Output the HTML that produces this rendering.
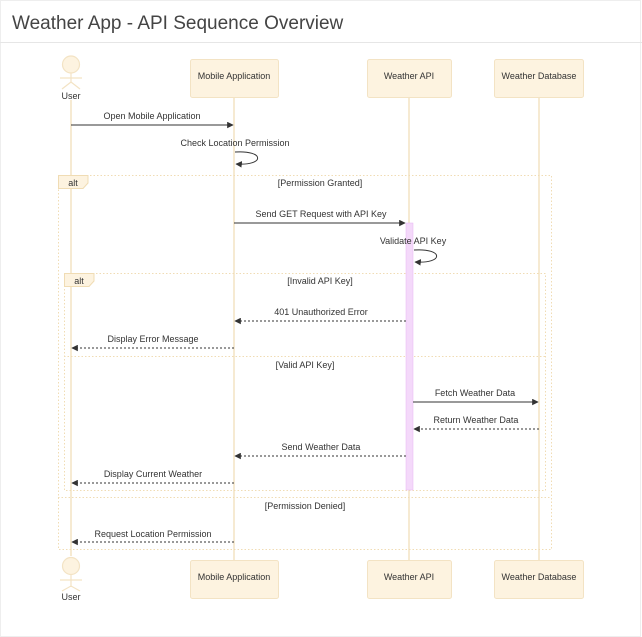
<!DOCTYPE html>
<html><head><meta charset="utf-8"><style>
html,body{margin:0;padding:0;background:#fff;}
svg{display:block;font-family:"Liberation Sans",Arial,sans-serif;}
</style></head><body>
<svg width="642" height="637" viewBox="0 0 642 637" xmlns="http://www.w3.org/2000/svg">
<defs>
<marker id="a" viewBox="0 0 10 10" refX="9" refY="5" markerWidth="6.5" markerHeight="6.5" orient="auto"><path d="M0,0 L10,5 L0,10 z" fill="#333"/></marker>
</defs>
<rect x="0.5" y="0.5" width="640" height="636" fill="#fff" stroke="#eee"/>
<line x1="0" y1="42.5" x2="642" y2="42.5" stroke="#e6e6e6"/>
<text x="12" y="29" font-size="19" fill="#444">Weather App - API Sequence Overview</text>

<g stroke="#f3e3c4" stroke-width="1.5">
<line x1="71" y1="100" x2="71" y2="556"/>
<line x1="234" y1="97" x2="234" y2="560"/>
<line x1="409" y1="97" x2="409" y2="560"/>
<line x1="539" y1="97" x2="539" y2="560"/>
</g>

<g fill="none" stroke="#f0dcb4" stroke-dasharray="1.5,2">
<rect x="58.5" y="175.5" width="493" height="374"/>
<line x1="58" y1="497.5" x2="551" y2="497.5"/>
<rect x="64.5" y="273.5" width="481" height="217"/>
<line x1="64" y1="356.5" x2="545" y2="356.5"/>
</g>
<path d="M58.5,175.5 H88 V183 L83,188.5 H58.5 Z" fill="#fdf3e0" stroke="#f0dcb4"/>
<text x="73" y="186" font-size="9" fill="#333" text-anchor="middle">alt</text>
<path d="M64.5,273.5 H94 V281 L89,286.5 H64.5 Z" fill="#fdf3e0" stroke="#f0dcb4"/>
<text x="79" y="284" font-size="9" fill="#333" text-anchor="middle">alt</text>

<g font-size="9" fill="#333" text-anchor="middle">
<text x="320" y="186">[Permission Granted]</text>
<text x="320" y="284">[Invalid API Key]</text>
<text x="305" y="368">[Valid API Key]</text>
<text x="305" y="509">[Permission Denied]</text>
</g>

<rect x="406" y="223" width="7" height="267" fill="#f4d9fa" stroke="#e8b5f3" stroke-width="0.5"/>

<g fill="#fdf3e0" stroke="#f3e3c4">
<rect x="190.5" y="59.5" width="88" height="38" rx="2"/>
<rect x="367.5" y="59.5" width="84" height="38" rx="2"/>
<rect x="494.5" y="59.5" width="89" height="38" rx="2"/>
<rect x="190.5" y="560.5" width="88" height="38" rx="2"/>
<rect x="367.5" y="560.5" width="84" height="38" rx="2"/>
<rect x="494.5" y="560.5" width="89" height="38" rx="2"/>
</g>
<g font-size="9" fill="#333" text-anchor="middle">
<text x="234" y="79">Mobile Application</text>
<text x="409" y="79">Weather API</text>
<text x="539" y="79">Weather Database</text>
<text x="234" y="580">Mobile Application</text>
<text x="409" y="580">Weather API</text>
<text x="539" y="580">Weather Database</text>
</g>

<g fill="#fdf3e0" stroke="#f3e3c4" stroke-width="1.2">
<circle cx="71" cy="64.5" r="8.5"/>
<line x1="71" y1="73" x2="71" y2="82" />
<line x1="60" y1="78" x2="82" y2="78"/>
<polyline points="62,89 71,82 80,89" fill="none"/>
<circle cx="71" cy="566" r="8.5"/>
<line x1="71" y1="574.5" x2="71" y2="587"/>
<line x1="60" y1="580" x2="82" y2="580"/>
<polyline points="62,591 71,586 80,591" fill="none"/>
</g>
<text x="71" y="99" font-size="9" fill="#333" text-anchor="middle">User</text>
<text x="71" y="600" font-size="9" fill="#333" text-anchor="middle">User</text>

<g stroke="#333" stroke-width="1" fill="none" marker-end="url(#a)">
<line x1="71" y1="125" x2="233" y2="125"/>
<path d="M235,152 C265,150 265,166 236,164"/>
<line x1="234" y1="223" x2="405" y2="223"/>
<path d="M414,250 C444,248 444,264 415,262"/>
<line x1="406" y1="321" x2="235" y2="321" stroke-dasharray="2,2"/>
<line x1="234" y1="348" x2="72" y2="348" stroke-dasharray="2,2"/>
<line x1="413" y1="402" x2="538" y2="402"/>
<line x1="539" y1="429" x2="414" y2="429" stroke-dasharray="2,2"/>
<line x1="406" y1="456" x2="235" y2="456" stroke-dasharray="2,2"/>
<line x1="234" y1="483" x2="72" y2="483" stroke-dasharray="2,2"/>
<line x1="234" y1="542" x2="72" y2="542" stroke-dasharray="2,2"/>
</g>
<g font-size="9" fill="#333" text-anchor="middle">
<text x="152" y="119">Open Mobile Application</text>
<text x="235" y="146">Check Location Permission</text>
<text x="321" y="217">Send GET Request with API Key</text>
<text x="413" y="244">Validate API Key</text>
<text x="321" y="315">401 Unauthorized Error</text>
<text x="153" y="342">Display Error Message</text>
<text x="475" y="396">Fetch Weather Data</text>
<text x="476" y="423">Return Weather Data</text>
<text x="321" y="450">Send Weather Data</text>
<text x="153" y="477">Display Current Weather</text>
<text x="153" y="537">Request Location Permission</text>
</g>
</svg>
</body></html>
